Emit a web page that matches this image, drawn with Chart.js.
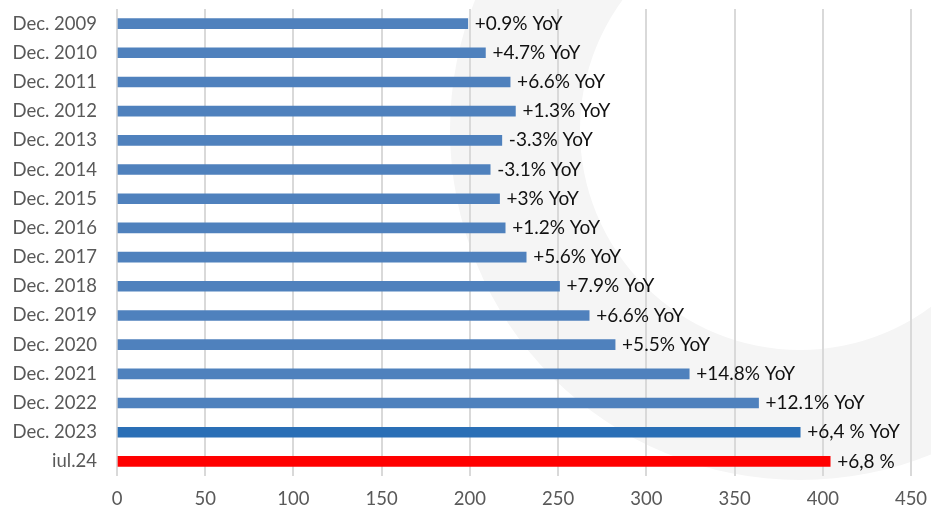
<!DOCTYPE html>
<html>
<head>
<meta charset="utf-8">
<script src="https://cdn.jsdelivr.net/npm/chart.js@4"></script>
<style>
  html, body { margin: 0; padding: 0; background: #ffffff; }
  #wrap { width: 931px; height: 512px; }
</style>
</head>
<body>
<div id="wrap"><canvas id="c" width="931" height="512"></canvas></div>
<script>
// Categories (top to bottom)
const categories = [
  'Dec. 2009', 'Dec. 2010', 'Dec. 2011', 'Dec. 2012', 'Dec. 2013', 'Dec. 2014',
  'Dec. 2015', 'Dec. 2016', 'Dec. 2017', 'Dec. 2018', 'Dec. 2019', 'Dec. 2020',
  'Dec. 2021', 'Dec. 2022', 'Dec. 2023', 'iul.24'
];

// Index level per period
const values = [
  198.8, 208.8, 222.8, 225.8, 218.1, 211.5,
  216.8, 220.0, 231.9, 250.8, 267.6, 282.3,
  324.3, 363.6, 387.2, 404.2
];

// Year-over-year change written next to each bar
const changeLabels = [
  '+0.9% YoY', '+4.7% YoY', '+6.6% YoY', '+1.3% YoY', '-3.3% YoY', '-3.1% YoY',
  '+3% YoY', '+1.2% YoY', '+5.6% YoY', '+7.9% YoY', '+6.6% YoY', '+5.5% YoY',
  '+14.8% YoY', '+12.1% YoY', '+6,4 % YoY', '+6,8 %'
];

// Value axis ticks
const xMin = 0;
const xMax = 450;
const xStep = 50;

const FONT = 'Lato, "Open Sans", sans-serif';

// Soft grey ring in the background
const ringBackground = {
  id: 'ringBackground',
  beforeDraw(chart) {
    const ctx = chart.ctx;
    ctx.save();
    ctx.fillStyle = '#f5f5f5';
    ctx.beginPath();
    ctx.arc(800, 130, 350, 0, Math.PI * 2);
    ctx.moveTo(800 + 220, 130);
    ctx.arc(800, 130, 220, 0, Math.PI * 2, true);
    ctx.fill('evenodd');
    ctx.restore();
  }
};

// Text to the right of each bar
const barLabels = {
  id: 'barLabels',
  afterDatasetsDraw(chart) {
    const ctx = chart.ctx;
    const meta = chart.getDatasetMeta(0);
    ctx.save();
    ctx.font = '19px ' + FONT;
    ctx.fillStyle = '#111111';
    ctx.textAlign = 'left';
    ctx.textBaseline = 'middle';
    meta.data.forEach((bar, i) => {
      ctx.fillText(changeLabels[i], bar.x + 7, bar.y);
    });
    ctx.restore();
  }
};

const last = values.length - 1;

new Chart(document.getElementById('c'), {
  type: 'bar',
  data: {
    labels: categories,
    datasets: [{
      data: values,
      backgroundColor: (ctx) => ctx.dataIndex === last ? '#ff0000'
        : ctx.dataIndex === last - 1 ? '#2a6fb6' : '#4f81bd',
      borderWidth: 0,
      barThickness: 10,
      categoryPercentage: 1
    }]
  },
  options: {
    indexAxis: 'y',
    responsive: false,
    animation: false,
    layout: { padding: { top: 9, right: 20, left: 0, bottom: 0 } },
    plugins: {
      legend: { display: false },
      tooltip: { enabled: false }
    },
    scales: {
      x: {
        min: xMin,
        max: xMax,
        ticks: {
          stepSize: xStep,
          color: '#595959',
          font: { family: FONT, size: 18.5 },
          padding: 12
        },
        grid: { color: '#d9d9d9', lineWidth: 2, drawTicks: false },
        border: { display: false },
        afterFit(scale) {
          scale.height = 36;
          scale.paddingLeft = 0;
          scale.paddingRight = 0;
        }
      },
      y: {
        ticks: {
          color: '#595959',
          font: { family: FONT, size: 18.5 },
          padding: 20
        },
        grid: { display: false, drawTicks: false },
        border: { display: false },
        afterFit(scale) {
          scale.width = 117;
          scale.paddingTop = 0;
          scale.paddingBottom = 0;
        }
      }
    }
  },
  plugins: [ringBackground, barLabels]
});
</script>
</body>
</html>
